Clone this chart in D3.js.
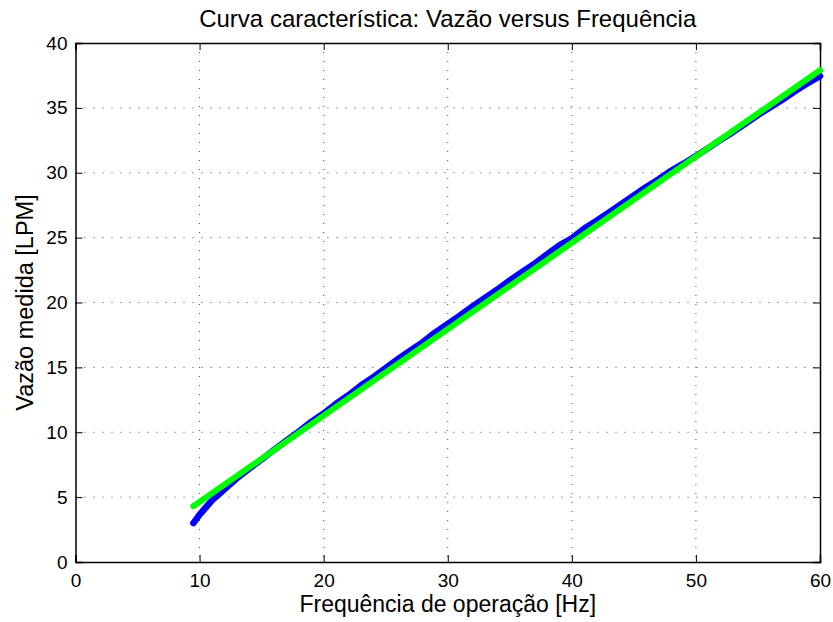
<!DOCTYPE html>
<html>
<head>
<meta charset="utf-8">
<script src="https://cdn.jsdelivr.net/npm/d3@7"></script>
<style>
  body { margin: 0; background: #fff; }
  text { font-family: "Liberation Sans", Arial, sans-serif; fill: #000; }
</style>
</head>
<body>
<svg width="833" height="622"></svg>
<script>
// dados medidos (frequencia em Hz, vazao em LPM)
var freq = [9.5, 10, 10.5, 11, 12, 13, 14, 15, 16, 17, 18, 19, 20, 21, 22, 23, 24, 25, 26, 27, 28, 29, 30,
            31, 32, 33, 34, 35, 36, 37, 38, 39, 40, 41, 42, 43, 44, 45, 46, 47, 48, 49, 50,
            51, 52, 53, 54, 55, 56, 57, 58, 59, 60];
var vazao = [3.0, 3.65, 4.2, 4.75, 5.6, 6.45, 7.2, 7.9, 8.65, 9.35, 10.05, 10.8, 11.45, 12.2, 12.85, 13.6, 14.25, 14.95, 15.65, 16.3, 16.95, 17.7, 18.35,
             19.0, 19.7, 20.35, 21.0, 21.7, 22.35, 23.0, 23.7, 24.4, 24.95, 25.7, 26.3, 26.95, 27.6, 28.25, 28.9, 29.5, 30.15, 30.7, 31.3,
             31.9, 32.55, 33.15, 33.8, 34.45, 35.05, 35.65, 36.3, 36.9, 37.45];

// reta ajustada
var ajusteX = [9.5, 60];
var ajusteY = [4.3, 37.9];

var xTicks = [0, 10, 20, 30, 40, 50, 60];
var yTicks = [0, 5, 10, 15, 20, 25, 30, 35, 40];

var svg = d3.select("svg");
var mEsq = 75.5, mDir = 820, mTopo = 43, mBase = 562;

var x = d3.scaleLinear().domain([0, 60]).range([mEsq, mDir]);
var y = d3.scaleLinear().domain([0, 40]).range([mBase, mTopo]);

// grade pontilhada
var grid = svg.append("g");
grid.selectAll(".gx").data(xTicks.slice(1, -1)).enter().append("line")
    .attr("x1", d => x(d)).attr("x2", d => x(d)).attr("y1", mTopo).attr("y2", mBase)
    .attr("stroke", "#444").attr("stroke-width", 1).attr("stroke-dasharray", "1,8");
grid.selectAll(".gy").data(yTicks.slice(1, -1)).enter().append("line")
    .attr("x1", mEsq).attr("x2", mDir).attr("y1", d => y(d)).attr("y2", d => y(d))
    .attr("stroke", "#444").attr("stroke-width", 1).attr("stroke-dasharray", "1,8");

// eixos (ticks para dentro)
var tl = 7;
svg.append("g").attr("transform", "translate(0," + mBase + ")")
    .call(d3.axisBottom(x).tickValues(xTicks).tickSize(-tl).tickPadding(12).tickFormat(d3.format("d")));
svg.append("g").attr("transform", "translate(0," + mTopo + ")")
    .call(d3.axisTop(x).tickValues(xTicks).tickSize(-tl).tickFormat(""));
svg.append("g").attr("transform", "translate(" + mEsq + ",0)")
    .call(d3.axisLeft(y).tickValues(yTicks).tickSize(-tl).tickPadding(8).tickFormat(d3.format("d")));
svg.append("g").attr("transform", "translate(" + mDir + ",0)")
    .call(d3.axisRight(y).tickValues(yTicks).tickSize(-tl).tickFormat(""));

svg.selectAll(".domain").attr("stroke", "#000").attr("stroke-width", 1.5);
svg.selectAll(".tick line").attr("stroke", "#000");
svg.selectAll(".tick text").style("font-size", "19px").attr("fill", "#000");

// curvas
var linha = d3.line().x(d => x(d[0])).y(d => y(d[1]));
svg.append("path").datum(d3.zip(freq, vazao)).attr("d", linha)
    .attr("fill", "none").attr("stroke", "#0000ff").attr("stroke-width", 6.5)
    .attr("stroke-linejoin", "round").attr("stroke-linecap", "round");
svg.append("path").datum(d3.zip(ajusteX, ajusteY)).attr("d", linha)
    .attr("fill", "none").attr("stroke", "#00ff00").attr("stroke-width", 6)
    .attr("stroke-linecap", "round");

// textos
svg.append("text").attr("x", (mEsq + mDir) / 2).attr("y", 27).attr("text-anchor", "middle")
    .style("font-size", "24px").text("Curva característica: Vazão versus Frequência");
svg.append("text").attr("x", (mEsq + mDir) / 2).attr("y", 612).attr("text-anchor", "middle")
    .style("font-size", "23px").text("Frequência de operação [Hz]");
svg.append("text").attr("transform", "translate(33," + ((mTopo + mBase) / 2) + ") rotate(-90)")
    .attr("text-anchor", "middle").style("font-size", "23.5px").text("Vazão medida [LPM]");
</script>
</body>
</html>
